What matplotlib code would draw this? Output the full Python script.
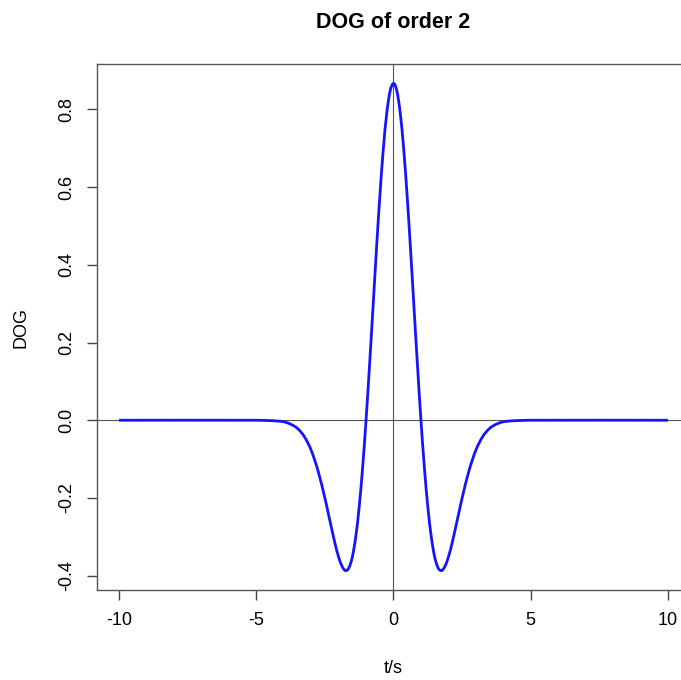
import matplotlib
matplotlib.use("Agg")
import matplotlib.pyplot as plt
from matplotlib.path import Path
from matplotlib.patches import PathPatch

plt.rcParams['font.family'] = ['Liberation Sans', 'DejaVu Sans']

# values
t_vals = [-10, -5, -4.5, -4.25, -4, -3.75, -3.5, -3.25, -3, -2.75,
          -2.5, -2.375, -2.25, -2.125, -2, -1.875, -1.75, -1.625, -1.5, -1.375,
          -1.25, -1.125, -1, -0.875, -0.75, -0.625, -0.5, -0.375, -0.25, -0.125,
          0, 0.125, 0.25, 0.375, 0.5, 0.625, 0.75, 0.875, 1, 1.125,
          1.25, 1.375, 1.5, 1.625, 1.75, 1.875, 2, 2.125, 2.25, 2.375,
          2.5, 2.75, 3, 3.25, 3.5, 3.75, 4, 4.25, 4.5, 5, 10]
dog_vals = [0.0, 0.0, -0.001, -0.002, -0.004, -0.010, -0.021, -0.042, -0.077, -0.130,
            -0.200, -0.240, -0.280, -0.319, -0.352, -0.376, -0.387, -0.380, -0.352, -0.300,
            -0.223, -0.122, 0.0, 0.139, 0.286, 0.435, 0.574, 0.695, 0.788, 0.847,
            0.867, 0.847, 0.788, 0.695, 0.574, 0.435, 0.286, 0.139, 0.0, -0.122,
            -0.223, -0.300, -0.352, -0.380, -0.387, -0.376, -0.352, -0.319, -0.280, -0.240,
            -0.200, -0.130, -0.077, -0.042, -0.021, -0.010, -0.004, -0.002, -0.001, 0.0, 0.0]
x_ticks = [-10, -5, 0, 5, 10]
y_ticks = [-0.4, -0.2, 0.0, 0.2, 0.4, 0.6, 0.8]


def smooth_path(xs, ys):
    # bezier through the read points (just for a smooth stroke)
    verts = [(xs[0], ys[0])]
    codes = [Path.MOVETO]
    n = len(xs)
    for i in range(n - 1):
        x0, y0 = xs[max(i - 1, 0)], ys[max(i - 1, 0)]
        x1, y1 = xs[i], ys[i]
        x2, y2 = xs[i + 1], ys[i + 1]
        x3, y3 = xs[min(i + 2, n - 1)], ys[min(i + 2, n - 1)]
        h = x2 - x1
        m1 = (y2 - y0) / (x2 - x0) if x2 != x0 else 0
        m2 = (y3 - y1) / (x3 - x1) if x3 != x1 else 0
        verts += [(x1 + h / 3, y1 + m1 * h / 3), (x2 - h / 3, y2 - m2 * h / 3), (x2, y2)]
        codes += [Path.CURVE4] * 3
    return Path(verts, codes)


fig = plt.figure(figsize=(6.81, 6.80), dpi=100)
ax = fig.add_axes([97/681, 1 - 590/680, (690 - 97)/681, (590 - 64)/680])

ax.axhline(0, color='#555555', lw=0.8, zorder=1)
ax.axvline(0, color='#555555', lw=0.8, zorder=1)
ax.add_patch(PathPatch(smooth_path(t_vals, dog_vals), facecolor='none',
                       edgecolor='#1414ff', lw=2.0, joinstyle='round', zorder=3))

ax.set_xlim(-10.8, 10.8)
ax.set_ylim(-0.437, 0.917)
ax.set_xticks(x_ticks)
ax.set_xticklabels([str(v) for v in x_ticks])
ax.set_yticks(y_ticks)
ax.set_yticklabels(['%.1f' % v for v in y_ticks], rotation=90, va='center')
ax.tick_params(direction='out', length=7, width=1, color='#444444',
               labelsize=13, pad=9)

for s in ax.spines.values():
    s.set_color('#555555')
    s.set_linewidth(1.0)

ax.set_title('DOG of order 2', fontsize=15.5, fontweight='bold', pad=26)
ax.set_xlabel('t/s', fontsize=13, labelpad=22)
ax.set_ylabel('DOG', fontsize=13, labelpad=20)

fig.savefig('out.png', dpi=100)
